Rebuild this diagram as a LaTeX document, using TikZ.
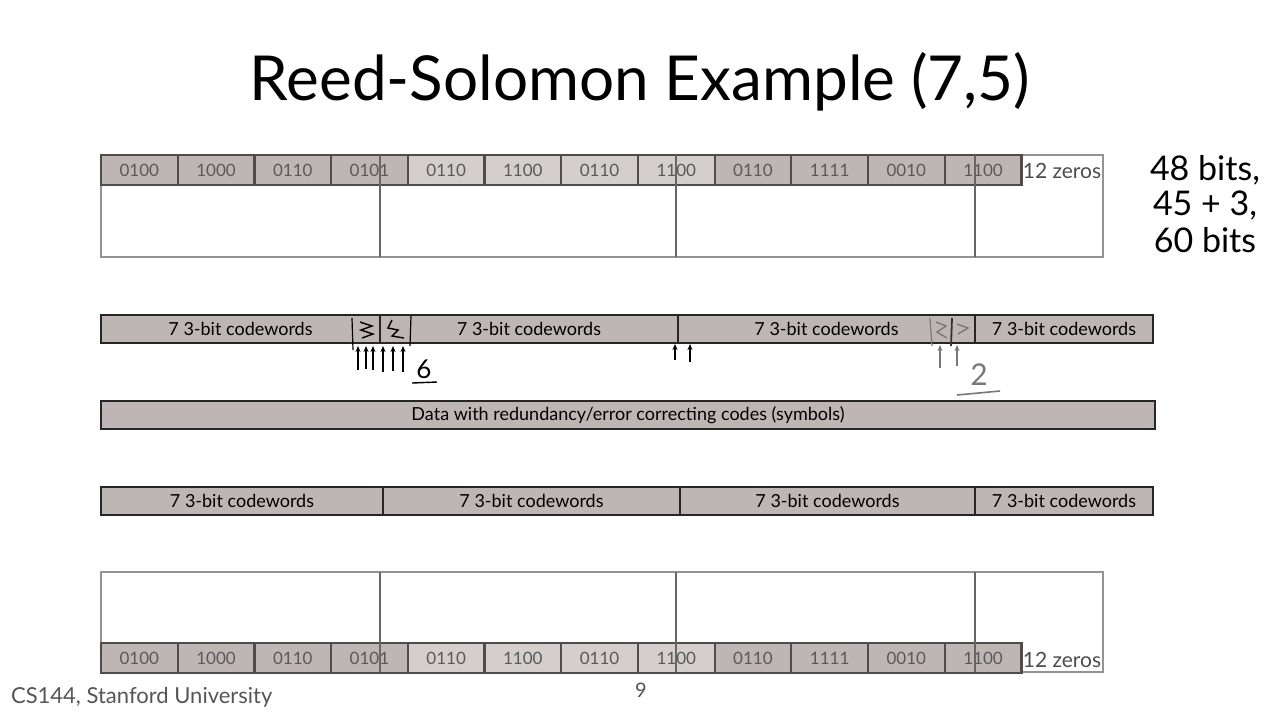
\documentclass[tikz,border=0pt]{standalone}
\usepackage{fontspec}
\setmainfont{Lato}
\usetikzlibrary{arrows.meta}
\definecolor{cellgray}{RGB}{190,182,180}
\definecolor{celllight}{RGB}{212,207,205}
\definecolor{rowline}{RGB}{80,76,76}
\definecolor{boxline}{RGB}{150,146,146}
\definecolor{inkgray}{RGB}{120,120,120}
\definecolor{footgray}{RGB}{85,85,85}
\begin{document}
\begin{tikzpicture}[
  x=0.5pt, y=-0.5pt,
  bitcell/.style={draw=rowline, line width=1.1pt, minimum width=38.35pt,
                  minimum height=15pt, inner sep=0pt, text=black!65,
                  font=\fontsize{8.5}{10}\selectfont},
  cwbox/.style={draw=black!85, line width=1pt, fill=cellgray, minimum height=14pt,
                inner sep=0pt, font=\fontsize{9}{11}\selectfont},
  outerbox/.style={draw=boxline, line width=0.8pt},
  divider/.style={draw=black!60, line width=0.9pt},
  zeros/.style={font=\fontsize{10.5}{12}\selectfont, text=black!70},
  ink/.style={-{Stealth[length=3pt,width=2.5pt]}, line width=0.6pt},
  note/.style={font=\fontsize{17}{21}\selectfont}
]
\useasboundingbox (0,0) rectangle (1280,720);
% title
\node[font=\fontsize{31}{36}\selectfont] (title) at (640,82) {Reed-Solomon Example (7,5)};
% side note
\node[note] (nbits) at (1205,170) {48 bits,};
\node[note] (nsplit) at (1205,205) {45 + 3,};
\node[note] (npad) at (1205,240) {60 bits};

% top block: 48 data bits + padding
\draw[outerbox] (101,155) rectangle (1103,257);
\foreach \b/\c [count=\i] in {0100/cellgray,1000/cellgray,0110/cellgray,0101/cellgray,
                              0110/celllight,1100/celllight,0110/celllight,1100/celllight,
                              0110/cellgray,1111/cellgray,0010/cellgray,1100/cellgray}
  \node[bitcell, fill=\c] (top\i) at ({101+76.7*(\i-0.5)},170) {\b};
\node[zeros] (topzero) at (1062,171) {12 zeros};
\foreach \x in {380,676,975}
  \draw[divider] (\x,155) -- (\x,257);

% codewords after encoding
\foreach \l/\r [count=\i] in {101/380,380/678,678/975,975/1153}
  \node[cwbox, minimum width={(\r-\l)*0.5pt}] (enc\i) at ({(\l+\r)/2},329) {7 3-bit codewords};

% hand marks on the encoded row
\draw[line width=0.6pt] (352,318) -- (353,350);
\draw[line width=0.6pt] (411,316) -- (410,346);
\draw[line width=0.7pt] (360,322) -- (372,326) -- (361,330) -- (373,334) -- (362,338);
\draw[line width=0.7pt] (392,320) -- (388,328) -- (398,330) -- (392,336) -- (404,338);
\foreach \x/\y in {358/370,366/369,373/370,383/372,393/371,403/372}
  \draw[ink] (\x,\y) -- (\x,346);
\node[font=\fontsize{13}{15}\selectfont] (six) at (424,369) {6};
\draw[line width=0.7pt] (412,383) -- (437,382);
\draw[ink] (675,360) -- (675,344);
\draw[ink] (690,362) -- (690,344);
\draw[inkgray, line width=0.6pt] (930,318) -- (932,346);
\draw[inkgray, line width=0.7pt] (936,322) -- (946,326) -- (937,332) -- (947,338);
\draw[black!80, line width=0.9pt] (952,318) -- (951,346);
\draw[inkgray, line width=0.7pt] (957,324) -- (968,328) -- (958,334);
\draw[ink, inkgray] (940,368) -- (940,345);
\draw[ink, inkgray] (957,366) -- (957,345);
\node[font=\fontsize{15}{17}\selectfont, text=inkgray] (two) at (979,375) {2};
\draw[inkgray, line width=0.8pt] (957,395) -- (1000,391);

% channel
\node[cwbox, minimum width={(1155-101)*0.5pt}] (chan) at (628,415)
  {Data with redundancy/error correcting codes (symbols)};

% codewords at the receiver
\foreach \l/\r [count=\i] in {101/383,383/680,680/975,975/1153}
  \node[cwbox, minimum width={(\r-\l)*0.5pt}] (dec\i) at ({(\l+\r)/2},501) {7 3-bit codewords};

% bottom block: recovered bits
\draw[outerbox] (101,572) rectangle (1103,672);
\foreach \b/\c [count=\i] in {0100/cellgray,1000/cellgray,0110/cellgray,0101/cellgray,
                              0110/celllight,1100/celllight,0110/celllight,1100/celllight,
                              0110/cellgray,1111/cellgray,0010/cellgray,1100/cellgray}
  \node[bitcell, fill=\c] (bot\i) at ({101+76.7*(\i-0.5)},658) {\b};
\node[zeros] (botzero) at (1062,660) {12 zeros};
\foreach \x in {380,676,975}
  \draw[divider] (\x,572) -- (\x,672);

% footer
\node[anchor=west, font=\fontsize{11}{13}\selectfont, text=footgray] (foot) at (4,697) {CS144, Stanford University};
\node[font=\fontsize{10}{12}\selectfont, text=footgray] (page) at (641,690) {9};
\end{tikzpicture}
\end{document}
